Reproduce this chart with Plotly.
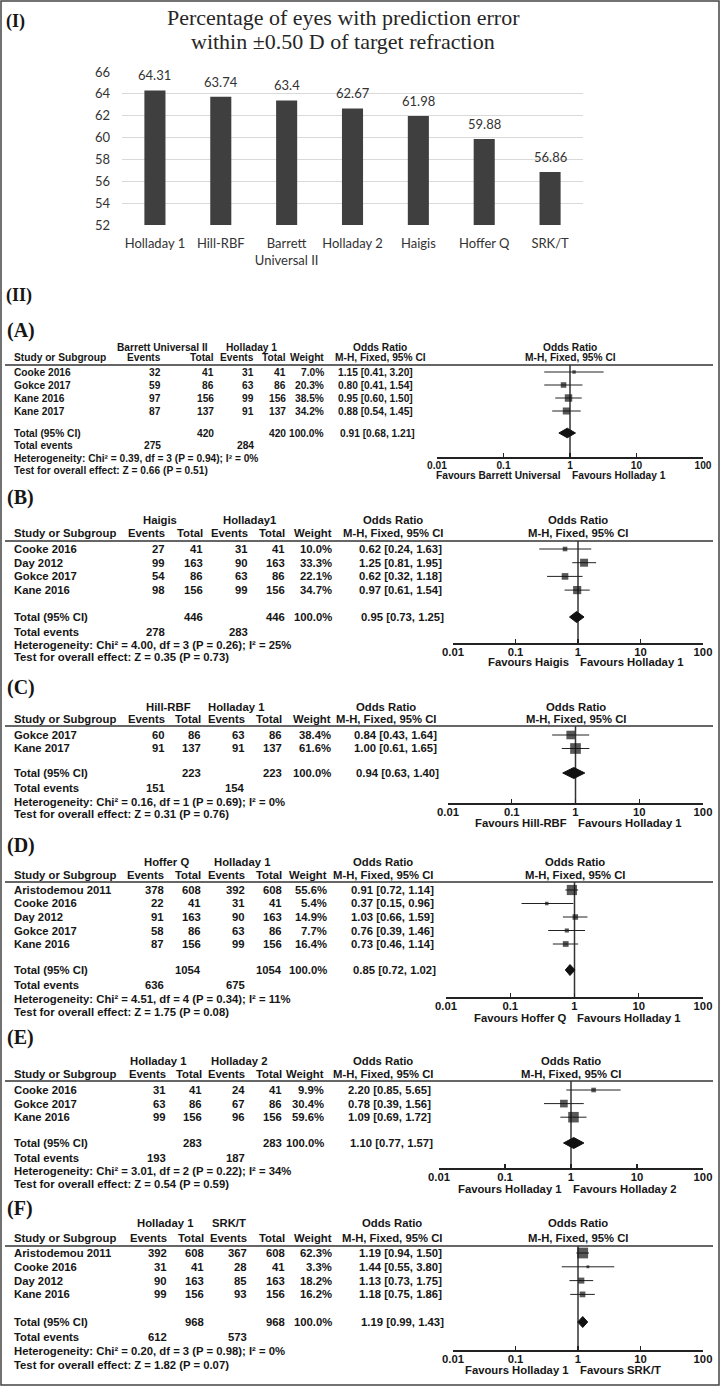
import plotly.graph_objects as go

W, H = 720, 1386

# ================= (I) bar chart data =================
bar_formulas = ["Holladay 1", "Hill-RBF", "Barrett Universal II", "Holladay 2", "Haigis", "Hoffer Q", "SRK/T"]
bar_tick_text = ["Holladay 1", "Hill-RBF", "Barrett<br>Universal II", "Holladay 2", "Haigis", "Hoffer Q", "SRK/T"]
bar_percent = [64.31, 63.74, 63.4, 62.67, 61.98, 59.88, 56.86]
bar_y_ticks = [52, 54, 56, 58, 60, 62, 64, 66]
bar_title = ["Percentage of eyes with prediction error", "within \u00b10.50 D of target refraction"]

# ================= (II) forest plot data =================
or_ticks = [0.01, 0.1, 1, 10, 100]
or_tick_text = ["0.01", "0.1", "1", "10", "100"]

A_groups = ["Barrett Universal II", "Holladay 1"]
A_studies = ["Cooke 2016", "Gokce 2017", "Kane 2016", "Kane 2017"]
A_ev1 = [32, 59, 97, 87]
A_tot1 = [41, 86, 156, 137]
A_ev2 = [31, 63, 99, 91]
A_tot2 = [41, 86, 156, 137]
A_weight = [7.0, 20.3, 38.5, 34.2]
A_or = [1.15, 0.80, 0.95, 0.88]
A_lo = [0.41, 0.41, 0.60, 0.54]
A_hi = [3.20, 1.54, 1.50, 1.45]
A_total_n = [420, 420]
A_total_or = [0.91, 0.68, 1.21]
A_total_events = [275, 284]
A_het = [0.39, 3, 0.94, 0]
A_z = [0.66, 0.51]
A_favours = ["Favours Barrett Universal", "Favours Holladay 1"]

B_groups = ["Haigis", "Holladay1"]
B_studies = ["Cooke 2016", "Day 2012", "Gokce 2017", "Kane 2016"]
B_ev1 = [27, 99, 54, 98]
B_tot1 = [41, 163, 86, 156]
B_ev2 = [31, 90, 63, 99]
B_tot2 = [41, 163, 86, 156]
B_weight = [10.0, 33.3, 22.1, 34.7]
B_or = [0.62, 1.25, 0.62, 0.97]
B_lo = [0.24, 0.81, 0.32, 0.61]
B_hi = [1.63, 1.95, 1.18, 1.54]
B_total_n = [446, 446]
B_total_or = [0.95, 0.73, 1.25]
B_total_events = [278, 283]
B_het = [4.00, 3, 0.26, 25]
B_z = [0.35, 0.73]
B_favours = ["Favours Haigis", "Favours Holladay 1"]

C_groups = ["Hill-RBF", "Holladay 1"]
C_studies = ["Gokce 2017", "Kane 2017"]
C_ev1 = [60, 91]
C_tot1 = [86, 137]
C_ev2 = [63, 91]
C_tot2 = [86, 137]
C_weight = [38.4, 61.6]
C_or = [0.84, 1.00]
C_lo = [0.43, 0.61]
C_hi = [1.64, 1.65]
C_total_n = [223, 223]
C_total_or = [0.94, 0.63, 1.40]
C_total_events = [151, 154]
C_het = [0.16, 1, 0.69, 0]
C_z = [0.31, 0.76]
C_favours = ["Favours Hill-RBF", "Favours Holladay 1"]

D_groups = ["Hoffer Q", "Holladay 1"]
D_studies = ["Aristodemou 2011", "Cooke 2016", "Day 2012", "Gokce 2017", "Kane 2016"]
D_ev1 = [378, 22, 91, 58, 87]
D_tot1 = [608, 41, 163, 86, 156]
D_ev2 = [392, 31, 90, 63, 99]
D_tot2 = [608, 41, 163, 86, 156]
D_weight = [55.6, 5.4, 14.9, 7.7, 16.4]
D_or = [0.91, 0.37, 1.03, 0.76, 0.73]
D_lo = [0.72, 0.15, 0.66, 0.39, 0.46]
D_hi = [1.14, 0.96, 1.59, 1.46, 1.14]
D_total_n = [1054, 1054]
D_total_or = [0.85, 0.72, 1.02]
D_total_events = [636, 675]
D_het = [4.51, 4, 0.34, 11]
D_z = [1.75, 0.08]
D_favours = ["Favours Hoffer Q", "Favours Holladay 1"]

E_groups = ["Holladay 1", "Holladay 2"]
E_studies = ["Cooke 2016", "Gokce 2017", "Kane 2016"]
E_ev1 = [31, 63, 99]
E_tot1 = [41, 86, 156]
E_ev2 = [24, 67, 96]
E_tot2 = [41, 86, 156]
E_weight = [9.9, 30.4, 59.6]
E_or = [2.20, 0.78, 1.09]
E_lo = [0.85, 0.39, 0.69]
E_hi = [5.65, 1.56, 1.72]
E_total_n = [283, 283]
E_total_or = [1.10, 0.77, 1.57]
E_total_events = [193, 187]
E_het = [3.01, 2, 0.22, 34]
E_z = [0.54, 0.59]
E_favours = ["Favours Holladay 1", "Favours Holladay 2"]

F_groups = ["Holladay 1", "SRK/T"]
F_studies = ["Aristodemou 2011", "Cooke 2016", "Day 2012", "Kane 2016"]
F_ev1 = [392, 31, 90, 99]
F_tot1 = [608, 41, 163, 156]
F_ev2 = [367, 28, 85, 93]
F_tot2 = [608, 41, 163, 156]
F_weight = [62.3, 3.3, 18.2, 16.2]
F_or = [1.19, 1.44, 1.13, 1.18]
F_lo = [0.94, 0.55, 0.73, 0.75]
F_hi = [1.50, 3.80, 1.75, 1.86]
F_total_n = [968, 968]
F_total_or = [1.19, 0.99, 1.43]
F_total_events = [612, 573]
F_het = [0.20, 3, 0.98, 0]
F_z = [1.82, 0.07]
F_favours = ["Favours Holladay 1", "Favours SRK/T"]

panel_data = [
    ("(A)", A_groups, A_studies, A_ev1, A_tot1, A_ev2, A_tot2, A_weight, A_or, A_lo, A_hi,
     A_total_n, A_total_or, A_total_events, A_het, A_z, A_favours),
    ("(B)", B_groups, B_studies, B_ev1, B_tot1, B_ev2, B_tot2, B_weight, B_or, B_lo, B_hi,
     B_total_n, B_total_or, B_total_events, B_het, B_z, B_favours),
    ("(C)", C_groups, C_studies, C_ev1, C_tot1, C_ev2, C_tot2, C_weight, C_or, C_lo, C_hi,
     C_total_n, C_total_or, C_total_events, C_het, C_z, C_favours),
    ("(D)", D_groups, D_studies, D_ev1, D_tot1, D_ev2, D_tot2, D_weight, D_or, D_lo, D_hi,
     D_total_n, D_total_or, D_total_events, D_het, D_z, D_favours),
    ("(E)", E_groups, E_studies, E_ev1, E_tot1, E_ev2, E_tot2, E_weight, E_or, E_lo, E_hi,
     E_total_n, E_total_or, E_total_events, E_het, E_z, E_favours),
    ("(F)", F_groups, F_studies, F_ev1, F_tot1, F_ev2, F_tot2, F_weight, F_or, F_lo, F_hi,
     F_total_n, F_total_or, F_total_events, F_het, F_z, F_favours),
]

# ================= layout (pixel positions) =================
# cols: name_left, ev1_right, tot1_right, ev2_right, tot2_right, weight_right, or_right, or_header_center,
#       group1_center, group2_center
panel_layout = [
    dict(fs=10.2, tag=330, hdr1=348, hdr2=358, line=365, first=372, step=13.0, total=433, tev=446, het=458, test=470,
         axis=457, ax_l=437, cols=[13, 162, 215, 255, 287, 325, 414, 380, 162, 252], fav_dy=18, sc=0.87),
    dict(fs=11.3, tag=498, hdr1=520, hdr2=533, line=541, first=549, step=13.7, total=617, tev=632, het=645, test=657,
         axis=643, ax_l=453, cols=[13, 166, 204, 249, 286, 333, 443, 393, 160, 249], fav_dy=19, sc=1.0),
    dict(fs=11.3, tag=687, hdr1=707, hdr2=719, line=726, first=735, step=13.5, total=773, tev=788, het=802, test=814,
         axis=803, ax_l=448, cols=[13, 166, 202, 246, 283, 332, 438, 386, 168, 236], fav_dy=20, sc=1.0),
    dict(fs=11.3, tag=845, hdr1=862, hdr2=875, line=882, first=890, step=13.5, total=970, tev=985, het=999, test=1012,
         axis=997, ax_l=446, cols=[13, 165, 202, 246, 283, 328, 435, 383, 166, 242], fav_dy=21, sc=1.0),
    dict(fs=11.3, tag=1037, hdr1=1061, hdr2=1074, line=1081, first=1090, step=13.6, total=1143, tev=1158, het=1171, test=1184,
         axis=1168, ax_l=439, cols=[13, 167, 203, 246, 283, 325, 432, 383, 158, 239], fav_dy=21, sc=1.0),
    dict(fs=11.3, tag=1208, hdr1=1223, hdr2=1238, line=1246, first=1253, step=13.8, total=1322, tev=1337, het=1351, test=1365,
         axis=1350, ax_l=453, cols=[13, 168, 205, 248, 286, 333, 443, 392, 165, 229], fav_dy=20, sc=1.0),
]

TABLE_FONT = "Liberation Sans, Arial, sans-serif"
BAR_FONT = "Lato, Carlito, Calibri, sans-serif"
SERIF = "Liberation Serif, Times New Roman, serif"
INK = "#161616"


def px(x):
    return x / W


def py(y):
    return 1 - y / H


fig = go.Figure()
annotations = []
shapes = []
layout = {}


def text(x, y, s, anchor="left", size=12, family=TABLE_FONT, bold=True, color=INK):
    annotations.append(dict(
        x=px(x), y=py(y), xref="paper", yref="paper", text=s, showarrow=False,
        xanchor=anchor, yanchor="middle", borderpad=0,
        font=dict(family=family, size=size, color=color, weight="bold" if bold else "normal"),
    ))


# ---------------- (I) bar chart ----------------
text(5, 22, "(I)", size=18, family=SERIF)
text(343, 17, bar_title[0], anchor="center", size=22, family=SERIF, bold=False, color="#262626")
text(343, 42, bar_title[1], anchor="center", size=22, family=SERIF, bold=False, color="#262626")

fig.add_trace(go.Bar(
    x=bar_formulas, y=bar_percent, marker=dict(color="#3f3f3f", line_width=0),
    xaxis="x", yaxis="y", showlegend=False, hoverinfo="skip",
))
for f, v in zip(bar_formulas, bar_percent):
    annotations.append(dict(
        x=f, y=v, xref="x", yref="y", text=f"{v:g}", showarrow=False, yanchor="bottom",
        yshift=5, font=dict(family=BAR_FONT, size=13, color="#333333"),
    ))

layout["xaxis"] = dict(
    domain=[px(122), px(583)], anchor="y", tickvals=bar_formulas, ticktext=bar_tick_text,
    tickfont=dict(family=BAR_FONT, size=13, color="#333333"), showline=False, ticks="",
    ticklabelstandoff=9, showgrid=False, tickangle=0, automargin=False,
)
layout["yaxis"] = dict(
    domain=[py(225), py(72)], anchor="x", range=[52, 66], tickvals=bar_y_ticks,
    tickfont=dict(family=BAR_FONT, size=13, color="#333333"), showgrid=True, gridcolor="#d9d9d9",
    gridwidth=1, zeroline=False, showline=False, ticks="", ticklabelstandoff=11, automargin=False,
)

text(5, 295, "(II)", size=18, family=SERIF)

# ---------------- (II) forest plots ----------------
for k, (d, L) in enumerate(zip(panel_data, panel_layout)):
    (tag, groups, studies, ev1, tot1, ev2, tot2, wt, orr, lo, hi,
     tot_n, tot_or, tot_ev, het, z, fav) = d
    n = k + 2
    xr, yr = f"x{n}", f"y{n}"
    fs = L["fs"]
    name_l, ev1_r, tot1_r, ev2_r, tot2_r, wt_r, or_r, or_c, g1_c, g2_c = L["cols"]
    rows = [L["first"] + i * L["step"] for i in range(len(studies))]
    ax_l, ax_r = L["ax_l"], 703
    fc = (ax_l + ax_r) / 2

    text(6, L["tag"], tag, size=20, family=SERIF)
    # headers
    text(g1_c, L["hdr1"], groups[0], "center", fs)
    text(g2_c, L["hdr1"], groups[1], "center", fs)
    text(or_c, L["hdr1"], "Odds Ratio", "center", fs)
    text(fc, L["hdr1"], "Odds Ratio", "center", fs)
    text(name_l, L["hdr2"], "Study or Subgroup", "left", fs)
    text(ev1_r, L["hdr2"], "Events", "right", fs)
    text(tot1_r, L["hdr2"], "Total", "right", fs)
    text(ev2_r, L["hdr2"], "Events", "right", fs)
    text(tot2_r, L["hdr2"], "Total", "right", fs)
    text(wt_r, L["hdr2"], "Weight", "right", fs)
    text(or_c, L["hdr2"], "M-H, Fixed, 95% CI", "center", fs)
    text(fc, L["hdr2"], "M-H, Fixed, 95% CI", "center", fs)
    shapes.append(dict(type="line", xref="paper", yref="paper", x0=px(5), x1=px(713),
                       y0=py(L["line"]), y1=py(L["line"]), line=dict(color="#333333", width=1.3)))
    # study rows
    for i, y in enumerate(rows):
        text(name_l, y, studies[i], "left", fs)
        text(ev1_r, y, str(ev1[i]), "right", fs)
        text(tot1_r, y, str(tot1[i]), "right", fs)
        text(ev2_r, y, str(ev2[i]), "right", fs)
        text(tot2_r, y, str(tot2[i]), "right", fs)
        text(wt_r, y, f"{wt[i]:.1f}%", "right", fs)
        text(or_r, y, f"{orr[i]:.2f} [{lo[i]:.2f}, {hi[i]:.2f}]", "right", fs)
    # totals
    text(name_l, L["total"], "Total (95% CI)", "left", fs)
    text(tot1_r, L["total"], str(tot_n[0]), "right", fs)
    text(tot2_r, L["total"], str(tot_n[1]), "right", fs)
    text(wt_r, L["total"], "100.0%", "right", fs)
    text(or_r + 2, L["total"], f"{tot_or[0]:.2f} [{tot_or[1]:.2f}, {tot_or[2]:.2f}]", "right", fs)
    text(name_l, L["tev"], "Total events", "left", fs)
    text(ev1_r, L["tev"], str(tot_ev[0]), "right", fs)
    text(ev2_r, L["tev"], str(tot_ev[1]), "right", fs)
    text(name_l, L["het"],
         f"Heterogeneity: Chi\u00b2 = {het[0]:.2f}, df = {het[1]} (P = {het[2]:.2f}); I\u00b2 = {het[3]}%",
         "left", fs)
    text(name_l, L["test"], f"Test for overall effect: Z = {z[0]:.2f} (P = {z[1]:.2f})", "left", fs)
    # favours labels
    text(fc - 8, L["axis"] + L["fav_dy"], fav[0], "right", fs)
    text(fc + 1, L["axis"] + L["fav_dy"], fav[1], "left", fs)

    # reference line at OR = 1
    fig.add_trace(go.Scatter(x=[1, 1], y=[L["line"], L["axis"]], mode="lines",
                             line=dict(color="#333333", width=1.5), xaxis=xr, yaxis=yr,
                             showlegend=False, hoverinfo="skip"))
    # confidence intervals
    xs, ys = [], []
    for a, b, y in zip(lo, hi, rows):
        xs += [a, b, None]
        ys += [y, y, None]
    fig.add_trace(go.Scatter(x=xs, y=ys, mode="lines", line=dict(color="#222222", width=1),
                             xaxis=xr, yaxis=yr, showlegend=False, hoverinfo="skip"))
    # study squares (area ~ weight)
    sizes = [L["sc"] * (1.3 * w ** 0.5 + 0.5) for w in wt]
    fig.add_trace(go.Scatter(x=orr, y=rows, mode="markers",
                             marker=dict(symbol="square", size=sizes, color="#111111", line_width=0),
                             xaxis=xr, yaxis=yr, showlegend=False, hoverinfo="skip"))
    # pooled diamond
    o, a, b = tot_or
    yc = L["total"]
    h = 5.5 * L["sc"]
    fig.add_trace(go.Scatter(x=[a, o, b, o, a], y=[yc, yc - h, yc, yc + h, yc], mode="lines",
                             fill="toself", fillcolor="#111111", line=dict(color="#111111", width=1),
                             xaxis=xr, yaxis=yr, showlegend=False, hoverinfo="skip"))

    layout[f"xaxis{n}"] = dict(
        type="log", range=[-2, 2], domain=[px(ax_l), px(ax_r)], anchor=yr,
        showline=True, linecolor="#222222", linewidth=1.5, ticks="inside", ticklen=4,
        tickcolor="#222222", tickwidth=1.2, tickvals=or_ticks, ticktext=or_tick_text,
        tickfont=dict(family=TABLE_FONT, size=fs, color=INK, weight="bold"),
        showgrid=False, zeroline=False, ticklabelstandoff=-2, automargin=False,
    )
    layout[f"yaxis{n}"] = dict(
        domain=[py(L["axis"]), py(L["line"])], range=[L["axis"], L["line"]],
        anchor=xr, visible=False, showgrid=False, zeroline=False, automargin=False,
    )

# outer frame
shapes.append(dict(type="rect", xref="paper", yref="paper", x0=px(1), x1=px(719), y0=py(1385), y1=py(1),
                   line=dict(color="#444444", width=1.5)))

fig.update_layout(
    width=W, height=H, margin=dict(l=0, r=0, t=0, b=0, autoexpand=False),
    paper_bgcolor="white", plot_bgcolor="white", showlegend=False,
    bargap=0.68, annotations=annotations, shapes=shapes, **layout,
)

fig.write_html(
    "out.html",
    config={"displayModeBar": False, "staticPlot": True},
    post_script="document.body.style.margin='0';document.body.style.overflow='hidden';",
)
